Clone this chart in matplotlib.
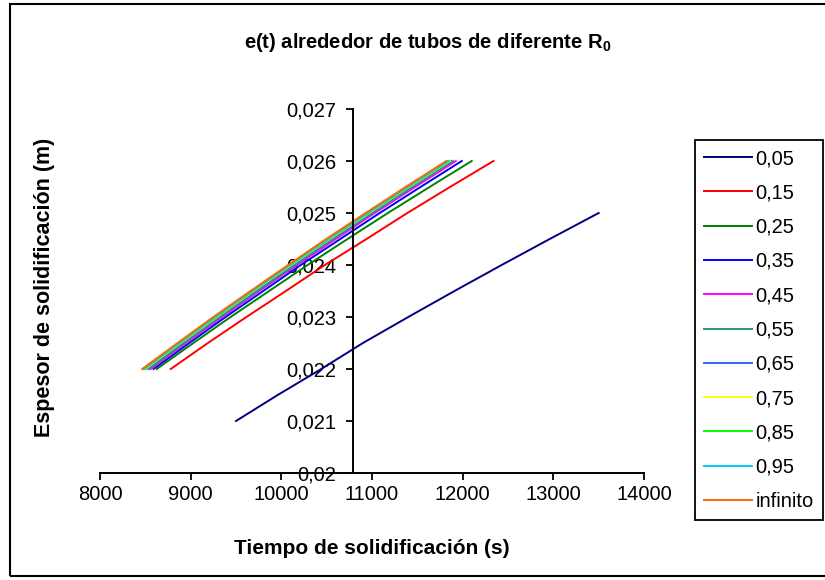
import matplotlib.pyplot as plt
from matplotlib.ticker import FuncFormatter, MultipleLocator
from matplotlib.patches import Rectangle

plt.rcParams['font.family'] = ['Liberation Sans', 'DejaVu Sans']
plt.rcParams['mathtext.fontset'] = 'custom'
plt.rcParams['mathtext.rm'] = 'Liberation Sans'
plt.rcParams['mathtext.bf'] = 'Liberation Sans:bold'

# espesor (m) y tiempo (s) para cada radio de tubo
e_005 = [0.021, 0.0215, 0.022, 0.0225, 0.023, 0.0235, 0.024, 0.0245, 0.025]
t_005 = [9500, 9960, 10440, 10900, 11400, 11910, 12430, 12960, 13500]

e_rest = [0.022, 0.0225, 0.023, 0.0235, 0.024, 0.0245, 0.025, 0.0255, 0.026]
t_015 = [8780, 9190, 9615, 10050, 10480, 10940, 11390, 11860, 12340]
t_025 = [8625, 9030, 9440, 9865, 10290, 10730, 11175, 11635, 12100]
t_035 = [8590, 8985, 9385, 9800, 10215, 10650, 11085, 11535, 11990]
t_045 = [8560, 8950, 9350, 9755, 10175, 10600, 11030, 11475, 11925]
t_055 = [8540, 8930, 9325, 9735, 10150, 10570, 11005, 11445, 11895]
t_065 = [8520, 8910, 9305, 9715, 10130, 10550, 10985, 11425, 11875]
t_075 = [8500, 8890, 9290, 9695, 10110, 10535, 10970, 11410, 11860]
t_085 = [8490, 8880, 9280, 9685, 10100, 10525, 10960, 11400, 11850]
t_095 = [8480, 8870, 9270, 9675, 10090, 10515, 10950, 11390, 11840]
t_inf = [8465, 8855, 9250, 9660, 10075, 10495, 10930, 11370, 11820]

labels = ['0,05', '0,15', '0,25', '0,35', '0,45', '0,55', '0,65', '0,75',
          '0,85', '0,95', 'infinito']
tiempos = [t_005, t_015, t_025, t_035, t_045, t_055, t_065, t_075,
           t_085, t_095, t_inf]
colores = ['#000080', '#FF0000', '#008000', '#0000FF', '#FF00FF', '#339966',
           '#3366FF', '#FFFF00', '#00FF00', '#00CCFF', '#FF6600']

fig = plt.figure(figsize=(8.25, 5.8), dpi=100)
ax = fig.add_axes([100 / 825, 1 - 473 / 580, 544 / 825, 364 / 580])

for lab, t, c in zip(labels, tiempos, colores):
    e = e_005 if lab == '0,05' else e_rest
    ax.plot(t, e, color=c, lw=1.4, label=lab)

ax.set_xlim(8000, 14000)
ax.set_ylim(0.02, 0.027)
ax.xaxis.set_major_locator(MultipleLocator(1000))
ax.yaxis.set_major_locator(MultipleLocator(0.001))
ax.yaxis.set_major_formatter(FuncFormatter(lambda v, p: f"{v:.3f}".rstrip('0').replace('.', ',')))

ax.spines['top'].set_visible(False)
ax.spines['right'].set_visible(False)
ax.spines['left'].set_position(('data', 10790))
ax.spines['left'].set_linewidth(1.4)
ax.spines['bottom'].set_linewidth(1.4)
ax.tick_params(axis='both', direction='out', length=5, width=1.3, labelsize=14.5)
ax.tick_params(axis='x', pad=4)
ax.tick_params(axis='y', pad=7)

fig.text(372 / 825, 1 - 548 / 580, 'Tiempo de solidificación (s)',
         ha='center', va='center', fontsize=15, fontweight='bold')
fig.text(45 / 825, 1 - 287 / 580, 'Espesor de solidificación (m)',
         ha='center', va='center', rotation=90, fontsize=15.5, fontweight='bold')
fig.text(428 / 825, 1 - 43 / 580, r'e(t) alrededor de tubos de diferente R$\mathbf{_0}$',
         ha='center', va='center', fontsize=14.5, fontweight='bold')

leg = ax.legend(loc='upper left', bbox_to_anchor=(695 / 825, 1 - 140 / 580),
                bbox_transform=fig.transFigure, borderaxespad=0, fontsize=14.5,
                fancybox=False, edgecolor='black', framealpha=1,
                handlelength=2.4, handletextpad=0.15, labelspacing=0.76,
                borderpad=0.45)
leg.get_frame().set_linewidth(1.3)

# marco exterior del grafico
fig.patches.append(Rectangle((10 / 825, 4 / 580), 830 / 825, 572 / 580,
                             transform=fig.transFigure, fill=False,
                             edgecolor='black', lw=1.5))

fig.savefig('out.png', dpi=100)
